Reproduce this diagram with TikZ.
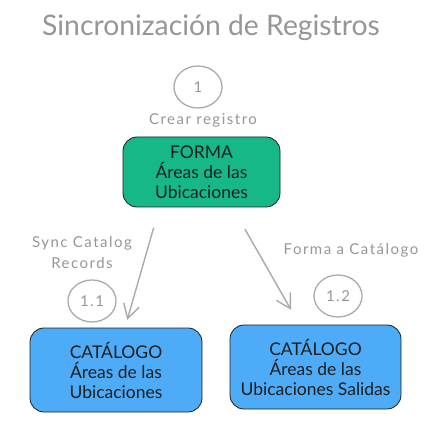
\documentclass[tikz,border=0pt]{standalone}
\usepackage{fontspec}
\setmainfont{Lato}
\newfontfamily\sketchfont[LetterSpace=10]{Lato}
\usepackage{xcolor}
\usepackage{tikz}
\usetikzlibrary{arrows.meta, shapes.geometric}
\definecolor{formagreen}{RGB}{21,184,134}
\definecolor{catblue}{RGB}{77,171,247}
\definecolor{sketchgray}{RGB}{170,170,170}
\definecolor{labelgray}{RGB}{150,150,150}
\definecolor{inkblack}{RGB}{30,30,30}

\begin{document}
\begin{tikzpicture}[x=1pt, y=-1pt,
    box/.style={draw=inkblack, line width=0.8pt, rounded corners=14pt, minimum width=157pt, minimum height=70pt,
                align=center, text=inkblack, inner sep=0pt, font=\fontsize{17.5}{20}\selectfont},
    stepcircle/.style={ellipse, draw=sketchgray, line width=1.3pt, minimum width=48pt, minimum height=42pt,
                inner sep=0pt, text=labelgray, font=\sketchfont\fontsize{15}{16}\selectfont},
    lbl/.style={text=labelgray, align=center, font=\sketchfont\fontsize{15}{21}\selectfont},
    arr/.style={-{Straight Barb[length=14pt, width=16pt]}, sketchgray, line width=1.4pt}]
  \useasboundingbox (0,0) rectangle (440,428);
  \node[text=labelgray, font=\fontsize{28.3}{32}\selectfont] (title) at (211,28) {Sincronización de Registros};
  \node[stepcircle] (c1) at (198,87) {1};
  \node[lbl] (crear) at (203,120) {Crear registro};
  \node[box, fill=formagreen] (forma) at (201.5,172) {FORMA\\Áreas de las\\Ubicaciones};
  \node[box, fill=catblue, minimum width=172pt, minimum height=84pt] (cat1) at (116,370) {CATÁLOGO\\Áreas de las\\Ubicaciones};
  \node[box, fill=catblue, minimum width=171pt, minimum height=84pt] (cat2) at (315.5,367) {CATÁLOGO\\Áreas de las\\Ubicaciones Salidas};
  \node[lbl] (sync) at (82,253) {Sync Catalog\\Records};
  \node[lbl] (fac) at (351,250) {Forma a Catálogo};
  \node[stepcircle] (c11) at (92,301) {1.1};
  \node[stepcircle] (c12) at (338,296) {1.2};

  \draw[arr, shorten <=21pt, shorten >=8pt] ([xshift=-42pt]forma.south) -- ([xshift=9pt]cat1.north);
  \draw[arr, shorten <=25pt, shorten >=17pt] ([xshift=31pt]forma.south) -- ([xshift=-16pt]cat2.north);
\end{tikzpicture}
\end{document}
